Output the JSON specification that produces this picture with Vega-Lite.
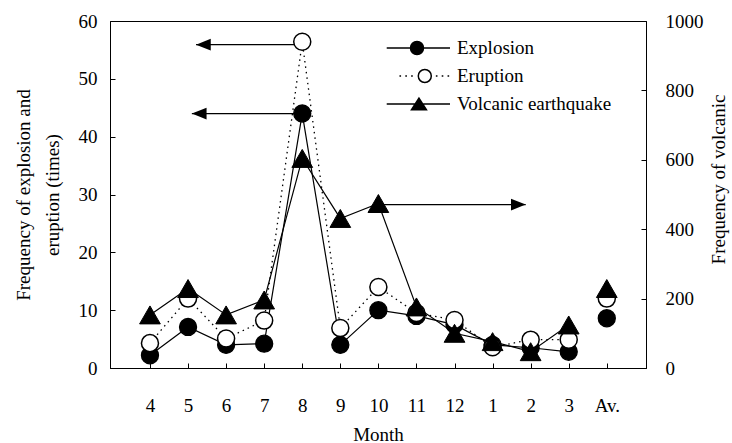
{
  "$schema": "https://vega.github.io/schema/vega-lite/v6.json",
  "width": 536,
  "height": 347,
  "autosize": "none",
  "padding": {"left": 110, "top": 21, "right": 86, "bottom": 75},
  "background": "white",
  "config": {
    "view": {"stroke": "black", "strokeWidth": 1},
    "font": "Liberation Serif",
    "axis": {
      "labelFont": "Liberation Serif", "labelFontSize": 19, "labelColor": "black",
      "titleFont": "Liberation Serif", "titleFontSize": 19, "titleFontWeight": "normal", "titleColor": "black",
      "domainColor": "black", "tickColor": "black", "grid": false, "tickSize": -5, "labelFlush": false, "labelOverlap": false
    },
    "legend": {"labelFont": "Liberation Serif", "labelFontSize": 19, "labelColor": "black"}
  },
  "datasets": {
    "obs": [
      {"i": 1, "month": "4", "series": "Explosion", "v": 2.2},
      {"i": 2, "month": "5", "series": "Explosion", "v": 7.1},
      {"i": 3, "month": "6", "series": "Explosion", "v": 4},
      {"i": 4, "month": "7", "series": "Explosion", "v": 4.2},
      {"i": 5, "month": "8", "series": "Explosion", "v": 44},
      {"i": 6, "month": "9", "series": "Explosion", "v": 4},
      {"i": 7, "month": "10", "series": "Explosion", "v": 10},
      {"i": 8, "month": "11", "series": "Explosion", "v": 9},
      {"i": 9, "month": "12", "series": "Explosion", "v": 7.5},
      {"i": 10, "month": "1", "series": "Explosion", "v": 4},
      {"i": 11, "month": "2", "series": "Explosion", "v": 3.5},
      {"i": 12, "month": "3", "series": "Explosion", "v": 2.8},
      {"i": 13, "month": "Av.", "series": "Explosion", "v": 8.6},
      {"i": 1, "month": "4", "series": "Eruption", "v": 4.3},
      {"i": 2, "month": "5", "series": "Eruption", "v": 12},
      {"i": 3, "month": "6", "series": "Eruption", "v": 5.1},
      {"i": 4, "month": "7", "series": "Eruption", "v": 8.2},
      {"i": 5, "month": "8", "series": "Eruption", "v": 56.4},
      {"i": 6, "month": "9", "series": "Eruption", "v": 6.9},
      {"i": 7, "month": "10", "series": "Eruption", "v": 14},
      {"i": 8, "month": "11", "series": "Eruption", "v": 9.5},
      {"i": 9, "month": "12", "series": "Eruption", "v": 8.3},
      {"i": 10, "month": "1", "series": "Eruption", "v": 3.6},
      {"i": 11, "month": "2", "series": "Eruption", "v": 4.9},
      {"i": 12, "month": "3", "series": "Eruption", "v": 4.9},
      {"i": 13, "month": "Av.", "series": "Eruption", "v": 12},
      {"i": 1, "month": "4", "series": "Volcanic earthquake", "v": 153},
      {"i": 2, "month": "5", "series": "Volcanic earthquake", "v": 229},
      {"i": 3, "month": "6", "series": "Volcanic earthquake", "v": 153},
      {"i": 4, "month": "7", "series": "Volcanic earthquake", "v": 196},
      {"i": 5, "month": "8", "series": "Volcanic earthquake", "v": 604},
      {"i": 6, "month": "9", "series": "Volcanic earthquake", "v": 431},
      {"i": 7, "month": "10", "series": "Volcanic earthquake", "v": 474},
      {"i": 8, "month": "11", "series": "Volcanic earthquake", "v": 176},
      {"i": 9, "month": "12", "series": "Volcanic earthquake", "v": 100},
      {"i": 10, "month": "1", "series": "Volcanic earthquake", "v": 76},
      {"i": 11, "month": "2", "series": "Volcanic earthquake", "v": 47},
      {"i": 12, "month": "3", "series": "Volcanic earthquake", "v": 124},
      {"i": 13, "month": "Av.", "series": "Volcanic earthquake", "v": 229}
    ],
    "arrows": [
      {"series": "Eruption", "from": 5, "to": 2.21, "y": 55.9, "dir": "left"},
      {"series": "Explosion", "from": 5, "to": 2.1, "y": 44, "dir": "left"},
      {"series": "Volcanic earthquake", "from": 7, "to": 10.87, "y": 471, "dir": "right"}
    ]
  },
  "layer": [
    {
      "layer": [
        {
          "data": {"name": "obs"},
          "transform": [{"filter": "datum.series === 'Explosion' && datum.i < 13"}],
          "mark": {"type": "line", "color": "black", "strokeWidth": 1.2},
          "encoding": {
            "x": {"field": "i", "type": "quantitative", "scale": {"domain": [-0.05, 14.03], "nice": false, "zero": false},
              "axis": {"values": [1,2,3,4,5,6,7,8,9,10,11,12,13], "labelExpr": "['4','5','6','7','8','9','10','11','12','1','2','3','Av.'][datum.value-1]", "labelPadding": 33, "title": "Month", "titleY": 57, "titleBaseline": "top"}},
            "y": {"field": "v", "type": "quantitative", "scale": {"domain": [0, 60], "nice": false},
              "axis": {"values": [0,10,20,30,40,50,60], "format": "d", "labelPadding": 18, "title": ["Frequency of explosion and", "eruption (times)"], "titleLineHeight": 29, "titleBaseline": "alphabetic", "titleX": -81, "titleY": 173.5, "titleAngle": -90}}
          }
        },
        {
          "data": {"name": "obs"},
          "transform": [{"filter": "datum.series === 'Eruption' && datum.i < 13"}],
          "mark": {"type": "line", "color": "black", "strokeWidth": 1.3, "strokeDash": [1.5, 4]},
          "encoding": {
            "x": {"field": "i", "type": "quantitative"},
            "y": {"field": "v", "type": "quantitative"}
          }
        },
        {
          "data": {"name": "arrows"},
          "transform": [{"filter": "datum.dir === 'left'"}],
          "mark": {"type": "rule", "color": "black", "strokeWidth": 1.3},
          "encoding": {
            "x": {"field": "from", "type": "quantitative"},
            "x2": {"field": "to"},
            "y": {"field": "y", "type": "quantitative"}
          }
        },
        {
          "data": {"name": "arrows"},
          "transform": [{"filter": "datum.dir === 'left'"}],
          "mark": {"type": "point", "shape": "M0,0L2,-0.8L2,0.8Z", "size": 216, "filled": true, "color": "black", "opacity": 1},
          "encoding": {
            "x": {"field": "to", "type": "quantitative"},
            "y": {"field": "y", "type": "quantitative"}
          }
        },
        {
          "data": {"name": "obs"},
          "transform": [{"filter": "datum.series === 'Explosion'"}],
          "mark": {"type": "point", "shape": "circle", "size": 290, "filled": true, "fill": "black", "stroke": "black", "strokeWidth": 1.3, "opacity": 1},
          "encoding": {
            "x": {"field": "i", "type": "quantitative"},
            "y": {"field": "v", "type": "quantitative"}
          }
        },
        {
          "data": {"name": "obs"},
          "transform": [{"filter": "datum.series === 'Eruption'"}],
          "mark": {"type": "point", "shape": "circle", "size": 290, "filled": true, "fill": "white", "stroke": "black", "strokeWidth": 1.5, "opacity": 1},
          "encoding": {
            "x": {"field": "i", "type": "quantitative"},
            "y": {"field": "v", "type": "quantitative"}
          }
        }
      ]
    },
    {
      "layer": [
        {
          "data": {"name": "obs"},
          "transform": [{"filter": "datum.series === 'Volcanic earthquake' && datum.i < 13"}],
          "mark": {"type": "line", "color": "black", "strokeWidth": 1.2},
          "encoding": {
            "x": {"field": "i", "type": "quantitative"},
            "y": {"field": "v", "type": "quantitative", "scale": {"domain": [0, 1000], "nice": false},
              "axis": {"orient": "right", "values": [0,200,400,600,800,1000], "format": "d", "labelPadding": 24, "title": "Frequency of volcanic", "titleAngle": -90, "titleBaseline": "alphabetic", "titleX": 78.5, "titleY": 158}}
          }
        },
        {
          "data": {"name": "arrows"},
          "transform": [{"filter": "datum.dir === 'right'"}],
          "mark": {"type": "rule", "color": "black", "strokeWidth": 1.3},
          "encoding": {
            "x": {"field": "from", "type": "quantitative"},
            "x2": {"field": "to"},
            "y": {"field": "y", "type": "quantitative"}
          }
        },
        {
          "data": {"name": "arrows"},
          "transform": [{"filter": "datum.dir === 'right'"}],
          "mark": {"type": "point", "shape": "M0,0L-2,-0.8L-2,0.8Z", "size": 216, "filled": true, "color": "black", "opacity": 1},
          "encoding": {
            "x": {"field": "to", "type": "quantitative"},
            "y": {"field": "y", "type": "quantitative"}
          }
        },
        {
          "data": {"name": "obs"},
          "transform": [{"filter": "datum.series === 'Volcanic earthquake'"}],
          "mark": {"type": "point", "shape": "triangle-up", "size": 430, "filled": true, "fill": "black", "stroke": "black", "strokeWidth": 1, "opacity": 1},
          "encoding": {
            "x": {"field": "i", "type": "quantitative"},
            "y": {"field": "v", "type": "quantitative"}
          }
        }
      ]
    },
    {
      "data": {"name": "obs"},
      "transform": [{"filter": "false"}],
      "mark": {"type": "point", "filled": true, "stroke": "black", "strokeWidth": 1.3, "size": 169, "opacity": 1},
      "encoding": {
        "shape": {"field": "series", "type": "nominal",
          "scale": {"domain": ["Explosion", "Eruption", "Volcanic earthquake"],
            "range": [
              "M-4.66,0L-1,0M1,0L5.08,0M-1,0A1,1,0,1,1,1,0A1,1,0,1,1,-1,0Z",
              "M-2.7,0L-2.45,0M-1.8,0L-1.55,0M-0.9,0L-0.65,0M2.9,0L3.15,0M3.8,0L4.05,0M4.7,0L4.95,0M0.2,0A1,1,0,1,1,2.2,0A1,1,0,1,1,0.2,0Z",
              "M-4.66,0L5.08,0M0.3,-0.9L-0.85,0.9L1.45,0.9Z"
            ]},
          "legend": {"title": null, "orient": "none", "legendX": 297.5, "legendY": 17.5, "labelOffset": 30.5, "rowPadding": 8, "symbolSize": 169,
            "encode": {"symbols": {"update": {"stroke": {"value": "black"}, "strokeWidth": {"value": 1.3}, "opacity": {"value": 1}}}}}},
        "fill": {"field": "series", "type": "nominal",
          "scale": {"domain": ["Explosion", "Eruption", "Volcanic earthquake"], "range": ["black", "white", "black"]},
          "legend": {"title": null, "orient": "none", "legendX": 297.5, "legendY": 17.5, "labelOffset": 30.5, "rowPadding": 8, "symbolSize": 169,
            "encode": {"symbols": {"update": {"stroke": {"value": "black"}, "strokeWidth": {"value": 1.3}, "opacity": {"value": 1}}}}}}
      }
    }
  ],
  "resolve": {"scale": {"y": "independent"}}
}
